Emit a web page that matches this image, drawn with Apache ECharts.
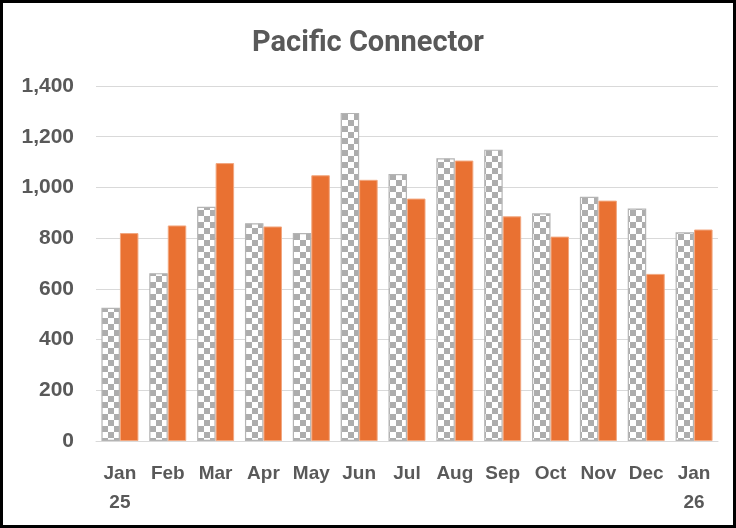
<!DOCTYPE html>
<html>
<head>
<meta charset="utf-8">
<script src="https://cdn.jsdelivr.net/npm/echarts@6/dist/echarts.min.js"></script>
<style>
html,body{margin:0;padding:0;background:#fff;}
#wrap{width:736px;height:528px;box-sizing:border-box;border:3px solid #000;position:relative;}
#chart{position:absolute;left:-3px;top:-3px;width:736px;height:528px;}
</style>
</head>
<body>
<div id="wrap"><div id="chart"></div></div>
<script>
const categories = ['Jan\n25','Feb','Mar','Apr','May','Jun','Jul','Aug','Sep','Oct','Nov','Dec','Jan\n26'];
const seriesA = [525, 662, 924, 859, 820, 1294, 1053, 1115, 1149, 898, 963, 917, 823];
const seriesB = [820, 850, 1096, 846, 1048, 1030, 956, 1106, 886, 806, 948, 659, 834];
const yTicks = [0, 200, 400, 600, 800, 1000, 1200, 1400];

const cv = document.createElement('canvas');
cv.width = 12; cv.height = 12;
const cx = cv.getContext('2d');
cx.fillStyle = '#ffffff'; cx.fillRect(0,0,12,12);
cx.fillStyle = '#adadad';
cx.fillRect(0,0,6,6); cx.fillRect(6,6,6,6);

const chart = echarts.init(document.getElementById('chart'), null, {renderer:'canvas'});
const labelColor = '#595959';
chart.setOption({
  animation:false,
  title:{
    text:'Pacific Connector', left:'center', top:24,
    textStyle:{fontFamily:'Roboto', fontWeight:'bold', fontSize:29, color:labelColor}
  },
  grid:{left:96, right:18, top:86, bottom:87},
  xAxis:{
    type:'category', data:categories,
    axisLine:{lineStyle:{color:'#d9d9d9', width:1}},
    axisTick:{show:false},
    axisLabel:{interval:0, hideOverlap:false, color:labelColor, fontFamily:'Liberation Sans', fontWeight:'bold', fontSize:19, margin:18, lineHeight:29}
  },
  yAxis:{
    type:'value', min:yTicks[0], max:yTicks[yTicks.length-1], interval:200,
    axisLine:{show:false}, axisTick:{show:false},
    splitLine:{lineStyle:{color:'#d9d9d9', width:1}},
    axisLabel:{color:labelColor, fontFamily:'Liberation Sans', fontWeight:'bold', fontSize:21, margin:22,
      formatter:v=>v.toLocaleString('en-US')}
  },
  series:[
    {type:'bar', data:seriesA, barWidth:18.5, barGap:'0%',
     itemStyle:{color:{image:cv, repeat:'repeat'}, borderColor:'#b4b4b4', borderWidth:1.2}},
    {type:'bar', data:seriesB, barWidth:18.5, barGap:'0%',
     itemStyle:{color:'#e97132', borderColor:'#f2a77f', borderWidth:1}}
  ]
});
</script>
</body>
</html>
